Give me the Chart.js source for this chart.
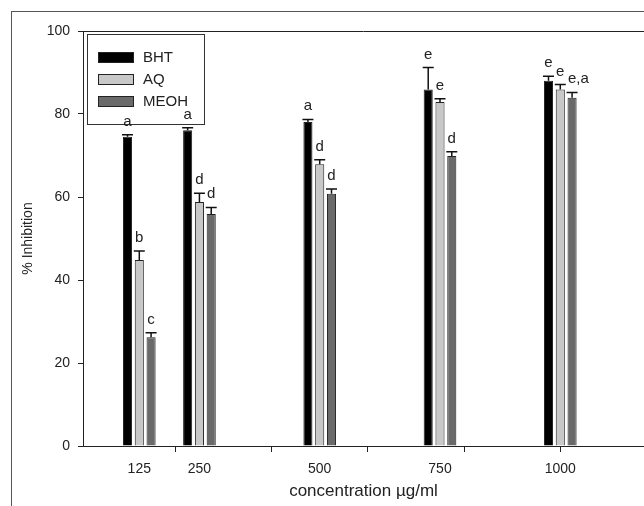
<!DOCTYPE html>
<html>
<head>
<meta charset="utf-8">
<script src="https://cdn.jsdelivr.net/npm/chart.js@4.4.1/dist/chart.umd.min.js"></script>
<style>
  body { margin: 0; background: #fff; }
</style>
</head>
<body>
<canvas id="grafico" width="644" height="506"></canvas>
<script>
// datos
const categorias = ['125', '250', '500', '750', '1000'];
const concentraciones = [125, 250, 500, 750, 1000];
const marcasX = [200, 400, 600, 800, 1000];
const marcasY = [0, 20, 40, 60, 80, 100];

const series = ['BHT', 'AQ', 'MEOH'];
const bht = [74.5, 76.1, 78.1, 85.9, 88.0];
const aq = [44.8, 58.8, 67.9, 82.9, 85.9];
const meoh = [26.2, 55.9, 60.8, 69.9, 83.9];

const errBht = [0.5, 0.6, 0.6, 5.3, 1.1];
const errAq = [2.2, 2.1, 1.1, 0.8, 1.2];
const errMeoh = [1.1, 1.6, 1.1, 1.0, 1.3];

const letrasBht = ['a', 'a', 'a', 'e', 'e'];
const letrasAq = ['b', 'd', 'd', 'e', 'e'];
const letrasMeoh = ['c', 'd', 'd', 'd', 'e,a'];

const valores = [bht, aq, meoh];
const errores = [errBht, errAq, errMeoh];
const letras = [letrasBht, letrasAq, letrasMeoh];
const colores = ['#000000', '#c8c8c8', '#6a6a6a'];

const fuente = "'Liberation Sans', Arial, sans-serif";
const tinta = '#222';

//Arma los puntos {x, y} de una serie
const armarPuntos = (serie) => concentraciones.map((c, i) => ({ x: c, y: serie[i] }));

//Todas las posiciones del eje x: marcas sin texto y etiquetas sin marca
const posicionesX = [...new Set([...concentraciones, ...marcasX])].sort((a, b) => a - b);

//Fondo blanco y marco exterior
const marco = {
  id: 'marco',
  beforeDraw: (chart) => {
    const ctx = chart.ctx;
    ctx.save();
    ctx.fillStyle = '#fff';
    ctx.fillRect(0, 0, chart.width, chart.height);
    ctx.strokeStyle = '#555';
    ctx.lineWidth = 1;
    ctx.strokeRect(11.5, 11.5, chart.width + 20, chart.height + 20);
    // linea superior del area
    const a = chart.chartArea;
    ctx.strokeStyle = tinta;
    ctx.beginPath();
    ctx.moveTo(a.left, a.top + 0.5);
    ctx.lineTo(a.right, a.top + 0.5);
    ctx.stroke();
    ctx.restore();
  }
};

//Leyenda con recuadro dentro del area
const leyenda = {
  id: 'leyenda',
  afterDatasetsDraw: (chart) => {
    const ctx = chart.ctx;
    ctx.save();
    ctx.strokeStyle = '#333';
    ctx.lineWidth = 1;
    ctx.strokeRect(87.5, 34.5, 117, 90);
    ctx.font = '15px ' + fuente;
    ctx.textBaseline = 'middle';
    chart.data.datasets.forEach((ds, i) => {
      const y = 52 + i * 22;
      ctx.fillStyle = ds.backgroundColor;
      ctx.fillRect(98, y, 36, 11);
      ctx.strokeStyle = '#222';
      ctx.strokeRect(98.5, y + 0.5, 35, 10);
      ctx.fillStyle = tinta;
      ctx.fillText(ds.label, 143, y + 6);
    });
    ctx.restore();
  }
};

//Barras de error y letras de significancia
const errorBars = {
  id: 'errorBars',
  afterDraw: (chart) => {
    const ctx = chart.ctx;
    const escalaY = chart.scales.y;
    ctx.save();
    ctx.strokeStyle = '#111';
    ctx.lineWidth = 1.5;
    ctx.fillStyle = tinta;
    ctx.font = '15px ' + fuente;
    ctx.textBaseline = 'alphabetic';
    ctx.textAlign = 'left';
    valores.forEach((serie, d) => {
      const meta = chart.getDatasetMeta(d);
      serie.forEach((v, i) => {
        const barra = meta.data[i];
        const x = barra.x;
        const yTope = escalaY.getPixelForValue(v + errores[d][i]);
        ctx.beginPath();
        ctx.moveTo(x, barra.y);
        ctx.lineTo(x, yTope);
        ctx.moveTo(x - 5.5, yTope);
        ctx.lineTo(x + 5.5, yTope);
        ctx.stroke();
        const texto = letras[d][i];
        const w = ctx.measureText(texto[0]).width;
        ctx.fillText(texto, x - w / 2, yTope - 9);
      });
    });
    ctx.restore();
  }
};

const ctx = document.getElementById('grafico');
new Chart(ctx, {
  type: 'bar',
  data: {
    datasets: series.map((nombre, i) => ({
      label: nombre,
      data: armarPuntos(valores[i]),
      backgroundColor: colores[i],
      borderColor: '#222',
      borderWidth: 1,
      // el ancho se calcula sobre la menor distancia entre posiciones (50 unidades)
      categoryPercentage: 1.47,
      barPercentage: 0.77
    }))
  },
  options: {
    responsive: false,
    animation: false,
    devicePixelRatio: 1,
    layout: { padding: { top: 31, right: 0, bottom: 0, left: 0 } },
    plugins: {
      legend: { display: false },
      tooltip: { enabled: false }
    },
    scales: {
      x: {
        type: 'linear',
        position: 'bottom',
        min: 8,
        max: 1174,
        offset: false,
        afterBuildTicks: (scale) => { scale.ticks = posicionesX.map(v => ({ value: v })); },
        afterFit: (scale) => { scale.height = 60; },
        ticks: {
          color: tinta,
          padding: 9,
          autoSkip: false,
          maxRotation: 0,
          font: { family: fuente, size: 14 },
          callback: (valor) => {
            const i = concentraciones.indexOf(valor);
            return i >= 0 ? categorias[i] : '';
          }
        },
        grid: {
          drawOnChartArea: false,
          drawTicks: true,
          tickLength: 6,
          offset: false,
          color: tinta,
          tickColor: (c) => marcasX.includes(c.tick.value) ? tinta : 'rgba(0,0,0,0)'
        },
        border: { display: true, color: tinta, width: 1 },
        title: {
          display: true,
          text: 'concentration µg/ml',
          color: tinta,
          font: { family: fuente, size: 17 },
          padding: { top: 2, bottom: 4 }
        }
      },
      y: {
        min: 0,
        max: 100,
        afterBuildTicks: (scale) => { scale.ticks = marcasY.map(v => ({ value: v })); },
        afterFit: (scale) => { scale.width = 83; },
        ticks: { color: tinta, padding: 8, font: { family: fuente, size: 14 } },
        grid: { drawOnChartArea: false, tickLength: 5, color: tinta },
        border: { display: true, color: tinta, width: 1 },
        title: {
          display: true,
          text: '% Inhibition',
          color: tinta,
          font: { family: fuente, size: 14 },
          padding: { top: 20, bottom: 0 }
        }
      }
    }
  },
  plugins: [marco, leyenda, errorBars]
});
</script>
</body>
</html>
